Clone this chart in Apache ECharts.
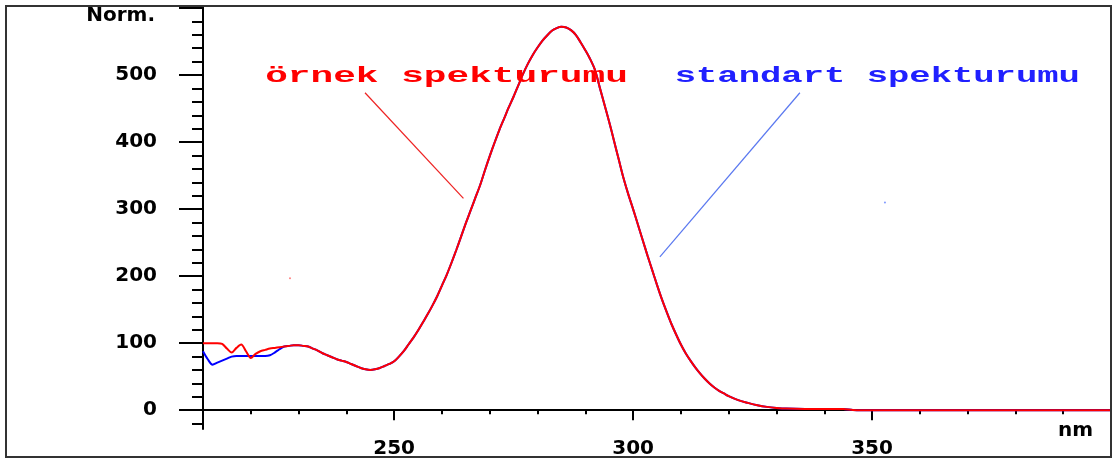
<!DOCTYPE html>
<html><head><meta charset="utf-8">
<script src="https://cdn.jsdelivr.net/npm/echarts@6/dist/echarts.min.js"></script>
<style>html,body{margin:0;padding:0;background:#fff}#c{width:1117px;height:461px}</style>
</head><body><div id="c"></div>
<script>
// ---- data ----
const wavelengths = [210,211,212,213,214,215,216,217,218,219,220,221,222,223,224,225,226,227,228,229,
  230,231,232,233,234,235,236,237,238,239,240,241,242,243,244,245,246,247,248,249,
  250,251,252,253,254,255,256,257,258,259,260,261,262,263,264,265,266,267,268,269,
  270,271,272,273,274,275,276,277,278,279,280,281,282,283,284,285,286,287,288,289,
  290,291,292,293,294,295,296,297,298,299,300,301,302,303,304,305,306,307,308,309,
  310,311,312,313,314,315,316,317,318,319,320,322,324,326,328,330,332,336,340,344,
  346,350,360,370,380,390,400];
const sampleSpectrum = [100,100,100,100,99,92,86,93,98,88,78,84,88,90,92,93,94,95,96,97,
  97,96,95,92,89,85,82,79,76,74,72,69,66,63,61,60,61,63,66,69,
  73,80,88,98,108,119,131,143,156,170,186,202,220,239,259,279,298,317,336,358,
  379,399,418,435,452,468,485,502,517,530,541,551,559,566,570,572,571,567,560,549,
  537,524,508,482,456,430,402,374,346,322,300,277,254,231,209,187,166,147,129,113,
  98,85,74,64,55,47,40,34,29,25,21,15,11,7.5,5,3.5,2.5,2,2,2,
  0.5,0,0,0,0,0,0];
const standardSpectrum = [88,76,68,71,74,77,80,81,81,81,81,81,81,81,82,86,91,95,96,97,
  97,96,95,92,89,85,82,79,76,74,72,69,66,63,61,60,61,63,66,69,
  73,80,88,98,108,119,131,143,156,170,186,202,220,239,259,279,298,317,336,358,
  379,399,418,435,452,468,485,502,517,530,541,551,559,566,570,572,571,567,560,549,
  537,524,508,482,456,430,402,374,346,322,300,277,254,231,209,187,166,147,129,113,
  98,85,74,64,55,47,40,34,29,25,21,15,11,7.5,5,3.5,2.5,2,2,2,
  0.5,0,0,0,0,0,0];
const yTickLabels = [0,100,200,300,400,500];
const yMajorTicks = [0,100,200,300,400,500,600];
const xTickLabels = [250,300,350];
const xMajorTicks = [250,300,350,400];
const sampleName = 'örnek spekturumu';
const standardName = 'standart spekturumu';
// annotation leader lines [nm, value]
const sampleLeader = [[243.9,473.6],[264.5,316]];
const standardLeader = [[334.9,473.6],[305.6,228.8]];
// annotation text spans [startNm, endNm, value]
const sampleTextSpan = [223.0, 298.9, 497.5];
const standardTextSpan = [308.7, 393.5, 497.5];
// stray specks in the reference
const sampleSpeck = [[228.2,197]];
const standardSpeck = [[352.7,310]];

const labelFont = 'DejaVu Sans';
const chart = echarts.init(document.getElementById('c'), null, {renderer:'canvas'});
const pairs = (vals) => wavelengths.map((w,i)=>[w, vals[i]]);

chart.setOption({
  animation:false,
  backgroundColor:'#fff',
  grid:{left:203, right:6, top:6, bottom:32, containLabel:false},
  xAxis:{type:'value', min:210, max:400, splitNumber:4, minInterval:50, maxInterval:50,
    axisLine:{lineStyle:{color:'#000', width:2}},
    axisTick:{show:true, inside:false, length:10, customValues:xMajorTicks, lineStyle:{color:'#000', width:2}},
    minorTick:{show:true, splitNumber:5, length:4, lineStyle:{color:'#000', width:2}},
    splitLine:{show:false},
    axisLabel:{margin:10, fontFamily:labelFont, fontWeight:'bold', fontSize:20, color:'#000',
      customValues:xTickLabels, formatter:v => String(v)},
    name:'nm', nameLocation:'end', nameGap:-53,
    nameTextStyle:{fontFamily:labelFont, fontWeight:'bold', fontSize:20, color:'#000',
      align:'left', verticalAlign:'top', padding:[11,0,0,0]}
  },
  yAxis:{type:'value', min:-28, max:603, splitNumber:5, minInterval:100, maxInterval:100,
    axisLine:{lineStyle:{color:'#000', width:2}},
    axisTick:{show:true, inside:false, length:24, customValues:yMajorTicks, lineStyle:{color:'#000', width:2}},
    minorTick:{show:true, splitNumber:5, length:11, lineStyle:{color:'#000', width:2}},
    splitLine:{show:false},
    axisLabel:{margin:46, fontFamily:labelFont, fontWeight:'bold', fontSize:20, color:'#000',
      customValues:yTickLabels, formatter:v => String(v)},
    name:'Norm.', nameLocation:'end', nameGap:-10,
    nameTextStyle:{fontFamily:labelFont, fontWeight:'bold', fontSize:20, color:'#000',
      align:'right', verticalAlign:'middle', padding:[0,48,0,0]}
  },
  series:[
    {name:standardName, type:'line', data:pairs(standardSpectrum), showSymbol:false, smooth:0.3,
      lineStyle:{color:'#0000ff', width:2}, z:2,
      markLine:{silent:true, symbol:['none','none'], label:{show:false},
        lineStyle:{color:'#5a78f0', width:1.2, type:'solid'},
        data:[[{coord:standardLeader[0]},{coord:standardLeader[1]}]]}},
    {name:sampleName, type:'line', data:pairs(sampleSpectrum), showSymbol:false, smooth:0.3,
      lineStyle:{color:'#ff0000', width:2}, z:3,
      markLine:{silent:true, symbol:['none','none'], label:{show:false},
        lineStyle:{color:'#ee2222', width:1.2, type:'solid'},
        data:[[{coord:sampleLeader[0]},{coord:sampleLeader[1]}]]}},
    {type:'scatter', data:sampleSpeck, symbolSize:2, itemStyle:{color:'#ff6060'}, silent:true},
    {type:'scatter', data:standardSpeck, symbolSize:2, itemStyle:{color:'#6080ff'}, silent:true}
  ],
  graphic:[{id:'frame', type:'rect', shape:{x:6, y:6, width:1105, height:451},
    style:{fill:'none', stroke:'#333', lineWidth:2}, z:100}]
});

// annotation texts, placed and sized through the chart's own coordinate conversion
const ctx = document.createElement('canvas').getContext('2d');
const annFont = 'bold 22px "Liberation Mono"';
ctx.font = annFont;
function annotation(id, text, span, color){
  const p0 = chart.convertToPixel({gridIndex:0}, [span[0], span[2]]);
  const p1 = chart.convertToPixel({gridIndex:0}, [span[1], span[2]]);
  const w = ctx.measureText(text).width;
  return {id, type:'text', x:p0[0], y:p0[1], scaleX:(p1[0]-p0[0])/w, scaleY:1, z:50,
    style:{text, font:annFont, fill:color, textAlign:'left', textVerticalAlign:'middle'}};
}
chart.setOption({graphic:[
  annotation('ann1', sampleName, sampleTextSpan, '#ff0000'),
  annotation('ann2', standardName, standardTextSpan, '#2020ff')
]});
</script></body></html>
